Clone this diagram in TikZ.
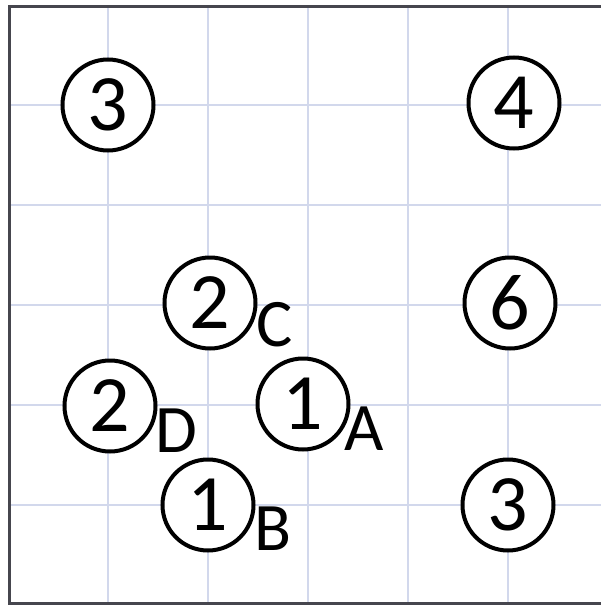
\documentclass[tikz,border=0pt]{standalone}
\usepackage{fontspec}
\setmainfont{Carlito}
\definecolor{gridc}{RGB}{210,216,236}
\definecolor{borderc}{RGB}{70,70,78}
\tikzset{
  numc/.style={draw=black, line width=4pt, circle, fill=white, minimum size=91pt, inner sep=0pt, font=\fontsize{80}{80}\selectfont},
  lbl/.style={anchor=base west, inner sep=0pt, font=\fontsize{68}{68}\selectfont},
  gridline/.style={draw=gridc, line width=2pt}
}
\begin{document}
\begin{tikzpicture}[x=1pt,y=-1pt]
\useasboundingbox (0,0) rectangle (601,605);
\fill[white] (0,0) rectangle (601,605);
\foreach \x in {108,208,308,408,508} \draw[gridline] (\x,6) -- (\x,603);
\foreach \y in {105,205,305,405,505} \draw[gridline] (9,\y) -- (601,\y);
\draw[borderc, line width=3pt] (601,6) -- (9,6) -- (9,603) -- (601,603);
\node[numc] (n3a) at (108,105) {3};
\node[numc] (n4) at (514,103) {4};
\node[numc] (n2c) at (210,303) {2};
\node[numc] (n6) at (510,303) {6};
\node[numc] (n2d) at (110,406) {2};
\node[numc] (n1a) at (303,404) {1};
\node[numc] (n1b) at (208,505) {1};
\node[numc] (n3b) at (508,505) {3};
\node[lbl] (lc) at (256,346) {C};
\node[lbl] (ld) at (155,452) {D};
\node[lbl] (la) at (344,450) {A};
\node[lbl] (lb) at (254,550) {B};
\end{tikzpicture}
\end{document}
